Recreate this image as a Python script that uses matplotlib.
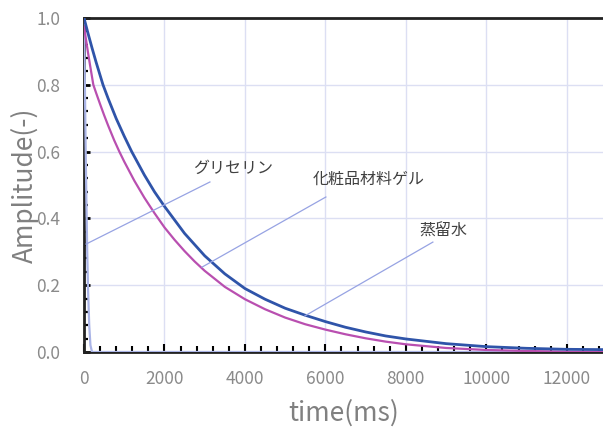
import numpy as np
import matplotlib.pyplot as plt
from matplotlib.ticker import MultipleLocator

plt.rcParams['font.family'] = ['Noto Sans CJK JP', 'DejaVu Sans']

# time (ms) and amplitude
t_water = [0, 50, 100, 150, 232, 300, 400, 500, 600, 750, 878, 1000, 1250,
           1500, 1750, 2000, 2250, 2500, 2750, 3000, 3500, 4000, 4500, 5000,
           5500, 6000, 6500, 7000, 7500, 8000, 9000, 10000, 11000, 12000, 13000]
a_water = [0.975, 0.935, 0.896, 0.859, 0.80, 0.776, 0.742, 0.709, 0.678,
           0.634, 0.60, 0.570, 0.513, 0.462, 0.416, 0.373, 0.336, 0.302,
           0.271, 0.243, 0.195, 0.158, 0.128, 0.103, 0.083, 0.067, 0.053,
           0.041, 0.031, 0.023, 0.012, 0.006, 0.003, 0.001, 0.0]

t_gel = [0, 100, 200, 300, 472, 600, 800, 1000, 1185, 1500, 1750, 2000,
         2500, 3000, 3500, 4000, 4500, 5000, 5500, 6000, 6500, 7000, 7500,
         8000, 9000, 10000, 11000, 12000, 13000]
a_gel = [1.0, 0.954, 0.910, 0.868, 0.80, 0.759, 0.699, 0.646, 0.600, 0.530,
         0.480, 0.436, 0.355, 0.288, 0.234, 0.190, 0.158, 0.131, 0.110,
         0.091, 0.074, 0.060, 0.048, 0.039, 0.025, 0.016, 0.011, 0.008, 0.007]

t_gly = [0, 20, 40, 60, 80, 100, 130, 160, 200, 13000]
a_gly = [1.0, 0.82, 0.62, 0.45, 0.30, 0.19, 0.08, 0.02, 0.0, 0.0]

xmax = 12900

fig = plt.figure(figsize=(6.03, 4.28), dpi=100)
ax = fig.add_axes([0.1393, 0.1776, 0.8607, 0.7804])

ax.grid(True, color='#dcdff3', lw=1.0, zorder=0)
ax.plot(t_gly, a_gly, color='#aab4e6', lw=1.6, zorder=3)
ax.plot(t_water, a_water, color='#b94fb0', lw=1.6, zorder=3)
ax.plot(t_gel, a_gel, color='#2f54a9', lw=2.0, zorder=4)

# leader lines and labels
line_c = '#97a3e3'
ax.plot([50, 3130], [0.323, 0.509], color=line_c, lw=0.9, zorder=5)
ax.plot([2932, 6012], [0.254, 0.464], color=line_c, lw=0.9, zorder=5)
ax.plot([5490, 8671], [0.108, 0.329], color=line_c, lw=0.9, zorder=5)
ax.text(2700, 0.550, 'グリセリン', fontsize=11.5, color='#404040', va='center')
ax.text(5680, 0.518, '化粧品材料ゲル', fontsize=11.5, color='#404040', va='center')
ax.text(8340, 0.362, '蒸留水', fontsize=11.5, color='#404040', va='center')

ax.set_xlim(0, xmax)
ax.set_ylim(0, 1.0)
ax.xaxis.set_major_locator(MultipleLocator(2000))
ax.xaxis.set_minor_locator(MultipleLocator(400))
ax.yaxis.set_major_locator(MultipleLocator(0.2))
ax.yaxis.set_minor_locator(MultipleLocator(0.04))
ax.yaxis.set_major_formatter(plt.FormatStrFormatter('%.1f'))

ax.tick_params(which='both', direction='in', colors='black', labelcolor='#8a8a8a',
               labelsize=12.5, top=False, right=False)
ax.tick_params(axis='x', which='major', length=6, width=1.5, pad=13)
ax.tick_params(axis='x', which='minor', length=4, width=1.5)
ax.tick_params(axis='y', which='major', length=4.5, width=2, pad=17)
ax.tick_params(axis='y', which='minor', length=3, width=1.6)

for s in ['top', 'left', 'bottom']:
    ax.spines[s].set_color('#222222')
    ax.spines[s].set_linewidth(2)
ax.spines['right'].set_visible(False)

ax.set_xlabel('time(ms)', fontsize=19, color='#808080', labelpad=8)
ax.set_ylabel('Amplitude(-)', fontsize=19, color='#808080', labelpad=-2)

plt.savefig('out.png', dpi=100)
